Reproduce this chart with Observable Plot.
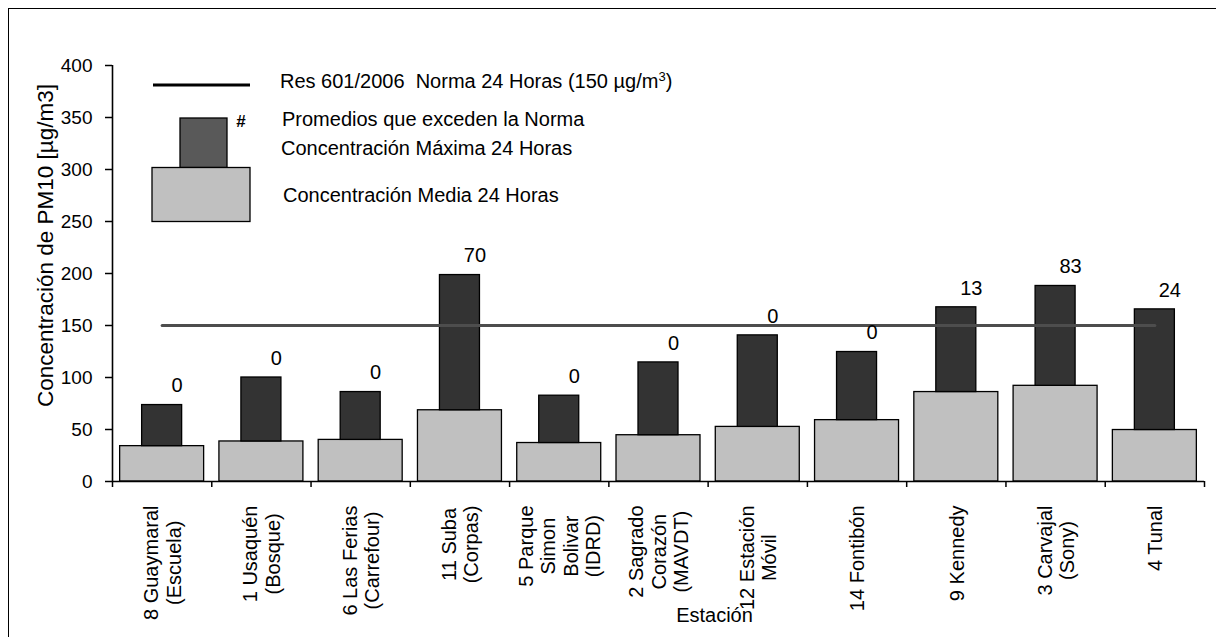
<!DOCTYPE html>
<html>
<head>
<meta charset="utf-8">
<script src="https://cdn.jsdelivr.net/npm/d3@7"></script>
<script src="https://cdn.jsdelivr.net/npm/@observablehq/plot@0.6"></script>
<style>
  body { margin: 0; background: #fff; }
  #wrap { position: relative; width: 1216px; height: 637px; overflow: hidden; background: #fff;
          font-family: 'Liberation Sans', Arial, sans-serif; }
  #frame { position: absolute; left: 8px; top: 8px; width: 1400px; height: 800px;
           border-left: 1.5px solid #000; border-top: 1.5px solid #000; }
  #wrap > svg { position: absolute; left: 0; top: 0; }
  #legend { position: absolute; left: 0; top: 0; pointer-events: none; }
  #legend text { font-family: 'Liberation Sans', Arial, sans-serif; font-size: 20px; white-space: pre; }
</style>
</head>
<body>
<div id="wrap"><div id="frame"></div></div>
<script>
// ---- data ----
const stations = [
  "8 Guaymaral\n(Escuela)",
  "1 Usaquén\n(Bosque)",
  "6 Las Ferias\n(Carrefour)",
  "11 Suba\n(Corpas)",
  "5 Parque\nSimon\nBolivar\n(IDRD)",
  "2 Sagrado\nCorazón\n(MAVDT)",
  "12 Estación\nMóvil",
  "14 Fontibón",
  "9 Kennedy",
  "3 Carvajal\n(Sony)",
  "4 Tunal"
];
const meanConc = [34, 38.5, 40, 68.5, 37, 44.5, 52.5, 59, 86, 92, 49.5];     // Concentración Media 24 Horas
const maxConc  = [73.5, 100, 86, 198.5, 82.5, 114.5, 140.5, 124.5, 167.5, 188, 165.5]; // Concentración Máxima 24 Horas
const exceedCount = [0, 0, 0, 70, 0, 0, 0, 0, 13, 83, 24];                   // Promedios que exceden la Norma
const normValue = 150;                                                        // Res 601/2006 Norma 24 Horas
const yTicks = [0, 50, 100, 150, 200, 250, 300, 350, 400];
const yTitle = "Concentración de PM10 [µg/m3]";
const xTitle = "Estación";
const legendLabels = [
  "Res 601/2006  Norma 24 Horas (150 µg/m",
  "Promedios que exceden la Norma",
  "Concentración Máxima 24 Horas",
  "Concentración Media 24 Horas"
];

// ---- table built from the arrays ----
const rows = stations.map((s, i) => ({i, s, mean: meanConc[i], max: maxConc[i], n: exceedCount[i]}));
const boundaries = d3.range(-0.5, stations.length, 1);

const FONT = "'Liberation Sans', Arial, sans-serif";

const chart = Plot.plot({
  width: 1216,
  height: 637,
  marginLeft: 112,
  marginRight: 12,
  marginTop: 65,
  marginBottom: 156,
  style: {fontFamily: FONT, fontSize: "20px", color: "#000", background: "transparent", overflow: "visible"},
  x: {domain: [-0.5, stations.length - 0.5]},
  y: {domain: [0, 400]},
  marks: [
    Plot.rect(rows, {x1: d => d.i - 0.423, x2: d => d.i + 0.423, y1: () => 0, y2: "mean",
      fill: "#c0c0c0", stroke: "#000", strokeWidth: 1.3}),
    Plot.rect(rows, {x1: d => d.i - 0.2015, x2: d => d.i + 0.2015, y1: "mean", y2: "max",
      fill: "#333333", stroke: "#000", strokeWidth: 1.3}),
    Plot.lineY(rows, {x: "i", y: () => normValue, stroke: "#4d4d4d", strokeWidth: 3}),
    Plot.ruleY([0], {stroke: "#000", strokeWidth: 1.6}),
    Plot.ruleX([-0.5], {stroke: "#000", strokeWidth: 1.6}),
    Plot.axisY({ticks: yTicks, tickSize: 7, tickPadding: 13, fontSize: 19, label: null, strokeWidth: 1.5}),
    Plot.axisX({ticks: boundaries, tickSize: 6, tickFormat: () => "", label: null, strokeWidth: 1.5}),
    Plot.text(rows, {x: "i", y: "max", text: d => String(d.n), dx: 15, dy: -19, fontSize: 20}),
    Plot.text(rows, {x: "i", text: "s", frameAnchor: "bottom", rotate: -90, textAnchor: "middle",
      lineAnchor: "middle", lineHeight: 1.13, fontSize: 20, dy: 24, ariaLabel: "xlabels", className: "xlabels"}),
    Plot.text([yTitle], {frameAnchor: "left", rotate: -90, textAnchor: "middle", lineAnchor: "middle",
      dx: -67, dy: -28, fontSize: 22.5}),
    Plot.text([xTitle], {frameAnchor: "bottom", textAnchor: "middle", lineAnchor: "middle",
      dx: 56, dy: 134, fontSize: 20})
  ]
});

const wrap = document.getElementById("wrap");
wrap.append(chart);

// top-align each multi-line category label block just below the axis (lines centred on each other)
chart.querySelectorAll('g[aria-label="xlabels"] text, g.xlabels text').forEach(t => {
  if (t.dataset.done) return;
  t.dataset.done = "1";
  const spans = t.querySelectorAll("tspan");
  let w = 0;
  if (spans.length) spans.forEach(s => { w = Math.max(w, s.getComputedTextLength()); });
  else w = t.getComputedTextLength();
  const tr = t.getAttribute("transform") || "";
  const m = /translate\(\s*([-\d.e]+)\s*[, ]\s*([-\d.e]+)\s*\)/.exec(tr);
  if (m) t.setAttribute("transform", tr.replace(m[0], `translate(${m[1]},${+m[2] + w / 2})`));
});

// legend (drawn inside the plot area, as in the reference)
const ns = "http://www.w3.org/2000/svg";
const leg = document.createElementNS(ns, "svg");
leg.setAttribute("id", "legend");
leg.setAttribute("width", 1216);
leg.setAttribute("height", 637);
leg.innerHTML = `
  <line x1="153" x2="250" y1="85" y2="85" stroke="#000" stroke-width="3.2"/>
  <rect x="180" y="118" width="47" height="49.5" fill="#595959" stroke="#000" stroke-width="1.3"/>
  <rect x="152" y="167.5" width="98" height="54" fill="#c0c0c0" stroke="#000" stroke-width="1.3"/>
  <text x="241" y="121" dy="0.35em" text-anchor="middle" style="font-weight:bold;font-size:17px">#</text>
  <text x="280" y="81" dy="0.35em">${legendLabels[0]}<tspan baseline-shift="super" style="font-size:13px">3</tspan>)</text>
  <text x="282" y="119" dy="0.35em">${legendLabels[1]}</text>
  <text x="281" y="148" dy="0.35em">${legendLabels[2]}</text>
  <text x="283" y="195" dy="0.35em">${legendLabels[3]}</text>
`;
wrap.append(leg);
</script>
</body>
</html>
